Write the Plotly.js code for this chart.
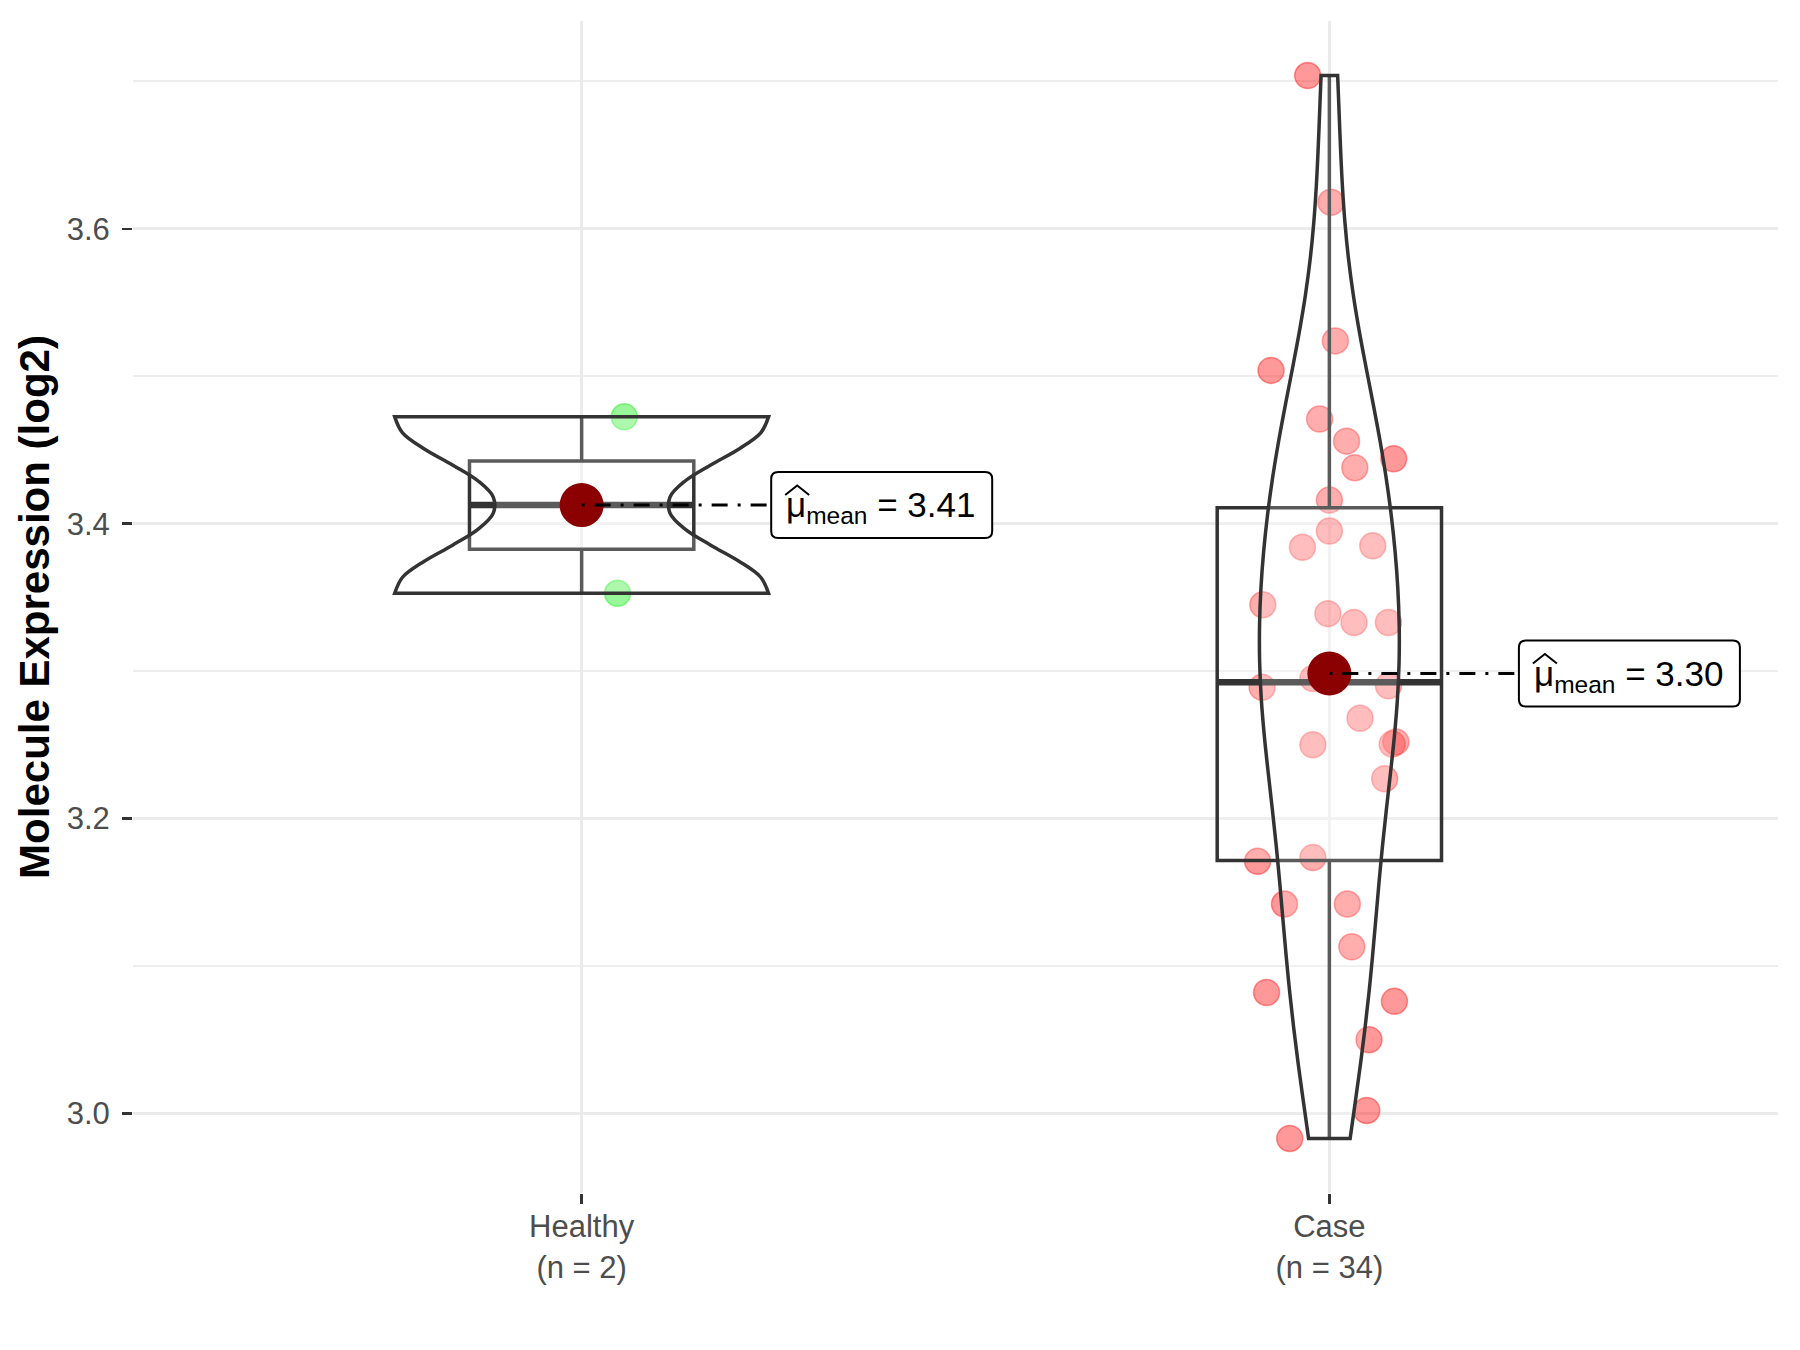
<!DOCTYPE html>
<html>
<head>
<meta charset="utf-8">
<script src="https://cdn.plot.ly/plotly-3.0.1.min.js"></script>
<style>html,body{margin:0;padding:0;background:#fff;}#chart{width:1800px;height:1350px;}</style>
</head>
<body>
<div id="chart"></div>
<script>
// ---- data ----
const categories = ['Healthy', 'Case'];
const healthyValues = [3.4725, 3.3528];
const healthyJitter = [0.057, 0.048];
const caseValues = [3.704, 3.618, 3.524, 3.504, 3.471, 3.456, 3.438, 3.444, 3.416, 3.395,
                    3.384, 3.385, 3.345, 3.339, 3.333, 3.333, 3.295, 3.289, 3.290, 3.268,
                    3.252, 3.2505, 3.250, 3.227, 3.171, 3.1735, 3.142, 3.142, 3.113, 3.082,
                    3.076, 3.050, 3.002, 2.983];
const caseJitter = [-0.029, 0.002, 0.008, -0.078, -0.013, 0.023, 0.034, 0.086, 0.000, 0.000,
                    -0.036, 0.058, -0.089, -0.002, 0.033, 0.079, -0.022, -0.090, 0.079, 0.041,
                    0.089, 0.084, -0.022, 0.074, -0.096, -0.022, -0.060, 0.024, 0.030, -0.084,
                    0.087, 0.053, 0.050, -0.053];
const yTickVals = [3.0, 3.2, 3.4, 3.6];
const yTickText = ['3.0', '3.2', '3.4', '3.6'];
const yMinorVals = [3.1, 3.3, 3.5, 3.7];
const yTitle = 'Molecule Expression (log2)';

// ---- helpers (statistics from the data) ----
function q7(sorted, p) {
  const h = (sorted.length - 1) * p, lo = Math.floor(h), hi = Math.ceil(h);
  return sorted[lo] + (h - lo) * (sorted[hi] - sorted[lo]);
}
function sdev(v) {
  const m = v.reduce((a, b) => a + b, 0) / v.length;
  return Math.sqrt(v.reduce((a, b) => a + (b - m) * (b - m), 0) / (v.length - 1));
}
function stats(v) {
  const s = v.slice().sort((a, b) => a - b);
  const q1 = q7(s, 0.25), med = q7(s, 0.5), q3 = q7(s, 0.75), iqr = q3 - q1;
  const lf = Math.min(...s.filter(x => x >= q1 - 1.5 * iqr));
  const uf = Math.max(...s.filter(x => x <= q3 + 1.5 * iqr));
  const mean = v.reduce((a, b) => a + b, 0) / v.length;
  let lo = Math.min(sdev(v), iqr / 1.34);
  if (!(lo > 0)) lo = sdev(v) || 1;
  const bw = 0.9 * lo * Math.pow(v.length, -0.2);
  let maxD = 0;
  for (let i = 0; i <= 500; i++) {
    const x = s[0] + (s[s.length - 1] - s[0]) * i / 500;
    let d = 0;
    for (const xi of v) { const u = (x - xi) / bw; d += Math.exp(-0.5 * u * u); }
    d /= (v.length * bw * Math.sqrt(2 * Math.PI));
    if (d > maxD) maxD = d;
  }
  return {q1, med, q3, lf, uf, mean, bw, maxD};
}

const groups = [
  {name: categories[0], values: healthyValues, jitter: healthyJitter, color: 'rgba(0,235,0,0.4)'},
  {name: categories[1], values: caseValues, jitter: caseJitter, color: 'rgba(255,0,0,0.4)'}
];
groups.forEach((g, i) => { g.pos = i + 1; g.st = stats(g.values); });
const maxAll = Math.max(...groups.map(g => g.st.maxD));

const BOXW = 0.3, LABEL_OFF = 0.2535;
const traces = [];
// layer 1: jittered points
groups.forEach(g => traces.push({
  type: 'scatter', mode: 'markers', xaxis: 'x', yaxis: 'y',
  x: g.values.map((v, k) => g.pos + g.jitter[k]), y: g.values,
  marker: {size: 26, color: g.color, line: {color: g.color, width: 1.5}},
  hoverinfo: 'skip'
}));
// layer 2: boxes
groups.forEach(g => {
  traces.push({
    type: 'box', xaxis: 'x2', yaxis: 'y2', x: [g.pos],
    q1: [g.st.q1], median: [g.st.med], q3: [g.st.q3],
    lowerfence: [g.st.lf], upperfence: [g.st.uf],
    width: BOXW, whiskerwidth: 0, boxpoints: false,
    fillcolor: 'rgba(255,255,255,0.2)', line: {color: '#333333', width: 3.5},
    hoverinfo: 'skip'
  });
  traces.push({
    type: 'scatter', mode: 'lines', xaxis: 'x2', yaxis: 'y2',
    x: [g.pos - BOXW / 2, g.pos + BOXW / 2], y: [g.st.med, g.st.med],
    line: {color: '#333333', width: 6.5}, hoverinfo: 'skip'
  });
});
// layer 3: violins
groups.forEach(g => traces.push({
  type: 'violin', xaxis: 'x3', yaxis: 'y3',
  x: g.values.map(() => g.pos), y: g.values,
  width: 0.5 * g.st.maxD / maxAll, bandwidth: g.st.bw,
  spanmode: 'hard', scalemode: 'width', scalegroup: g.name,
  points: false, box: {visible: false}, meanline: {visible: false},
  line: {color: '#333333', width: 3.5}, fillcolor: 'rgba(255,255,255,0.2)',
  hoverinfo: 'skip'
}));
// layer 4: means and connectors
groups.forEach(g => {
  traces.push({
    type: 'scatter', mode: 'markers', xaxis: 'x4', yaxis: 'y4',
    x: [g.pos], y: [g.st.mean], marker: {size: 44, color: '#8B0000'}, hoverinfo: 'skip'
  });
  traces.push({
    type: 'scatter', mode: 'lines', xaxis: 'x4', yaxis: 'y4',
    x: [g.pos, g.pos + LABEL_OFF], y: [g.st.mean, g.st.mean],
    line: {color: '#000000', width: 3, dash: '3px,10px,16px,10px'}, hoverinfo: 'skip'
  });
});

// label boxes (rounded) and hats drawn as pixel-sized shapes anchored at the mean
function roundRect(x0, y0, x1, y1, r) {
  return `M ${x0 + r},${y0} L ${x1 - r},${y0} Q ${x1},${y0} ${x1},${y0 + r} L ${x1},${y1 - r} ` +
         `Q ${x1},${y1} ${x1 - r},${y1} L ${x0 + r},${y1} Q ${x0},${y1} ${x0},${y1 - r} ` +
         `L ${x0},${y0 + r} Q ${x0},${y0} ${x0 + r},${y0} Z`;
}
const shapes = [];
groups.forEach(g => {
  const base = {type: 'path', xref: 'x', yref: 'y', xsizemode: 'pixel', ysizemode: 'pixel',
                xanchor: g.pos + LABEL_OFF, yanchor: g.st.mean, layer: 'above'};
  shapes.push(Object.assign({}, base, {path: roundRect(0, -33, 221, 33, 7),
    fillcolor: '#ffffff', line: {color: '#000000', width: 2}}));
  shapes.push(Object.assign({}, base, {path: 'M 14,10 L 26,19.5 L 38,10',
    line: {color: '#000000', width: 2}}));
});

const annotations = groups.map(g => ({
  xref: 'x', yref: 'y', x: g.pos + LABEL_OFF, y: g.st.mean,
  xanchor: 'left', yanchor: 'middle', showarrow: false, xshift: 13, yshift: -2,
  text: 'μ<sub>mean</sub> = ' + g.st.mean.toFixed(2),
  font: {family: 'Liberation Sans, Arial, sans-serif', size: 35, color: '#000'}
}));

const XR = [0.4, 2.6], YR = [2.946, 3.741];
const hidden = (ov, anc, r) => ({overlaying: ov, anchor: anc, range: r, visible: false, type: 'linear', fixedrange: true});
const layout = {
  width: 1800, height: 1350,
  margin: {l: 133, r: 22, t: 21, b: 157},
  paper_bgcolor: '#ffffff', plot_bgcolor: '#ffffff',
  showlegend: false, violinmode: 'overlay', boxmode: 'overlay',
  font: {family: 'Liberation Sans, Arial, sans-serif'},
  xaxis: {
    type: 'linear', range: XR, tickmode: 'array', tickvals: groups.map(g => g.pos),
    ticktext: groups.map(g => g.name + '<br>(n = ' + g.values.length + ')'),
    showgrid: true, gridcolor: '#EBEBEB', gridwidth: 3, zeroline: false, showline: false,
    ticks: 'outside', ticklen: 10, tickwidth: 2.5, tickcolor: '#333333',
    tickfont: {size: 31, color: '#4D4D4D'}, ticklabelstandoff: -4, fixedrange: true
  },
  yaxis: {
    type: 'linear', range: YR, tickmode: 'array', tickvals: yTickVals, ticktext: yTickText,
    showgrid: true, gridcolor: '#EBEBEB', gridwidth: 3, zeroline: false, showline: false,
    minor: {tickmode: 'array', tickvals: yMinorVals, showgrid: true, gridcolor: '#EEEEEE', gridwidth: 2, ticklen: 0},
    ticks: 'outside', ticklen: 10, tickwidth: 2.5, tickcolor: '#333333',
    tickfont: {size: 31, color: '#4D4D4D'}, ticklabelstandoff: 6, fixedrange: true,
    title: {text: yTitle, standoff: 3, font: {size: 42, color: '#000000', weight: 'bold'}}
  },
  xaxis2: hidden('x', 'y2', XR), yaxis2: hidden('y', 'x2', YR),
  xaxis3: hidden('x', 'y3', XR), yaxis3: hidden('y', 'x3', YR),
  xaxis4: hidden('x', 'y4', XR), yaxis4: hidden('y', 'x4', YR),
  shapes: shapes,
  annotations: annotations
};
Plotly.newPlot('chart', traces, layout, {staticPlot: true, displayModeBar: false});
</script>
</body>
</html>
